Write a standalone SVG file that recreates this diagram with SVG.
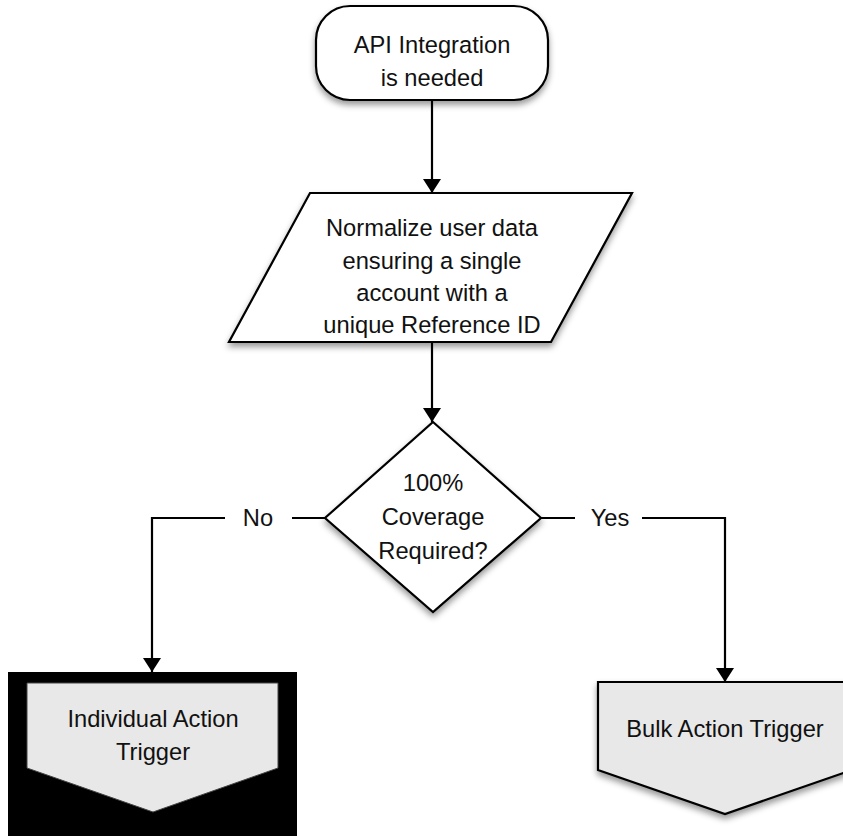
<svg xmlns="http://www.w3.org/2000/svg" width="843" height="836" viewBox="0 0 843 836">
  <defs>
    <filter id="shadow" x="-20%" y="-20%" width="140%" height="150%">
      <feDropShadow dx="0" dy="4" stdDeviation="3" flood-color="#000" flood-opacity="0.4"/>
    </filter>
    <marker id="arrow" viewBox="0 0 14 18" refX="14" refY="9" markerWidth="14" markerHeight="18" markerUnits="userSpaceOnUse" orient="auto">
      <path d="M0,0 L14,9 L0,18 Z" fill="#000"/>
    </marker>
  </defs>
  <style>
    .shape { fill: #fff; stroke: #000; stroke-width: 2.2; filter: url(#shadow); }
    .grey { fill: #e8e8e8; stroke: #000; stroke-width: 2.2; filter: url(#shadow); }
    .label { font-family: "Liberation Sans", Arial, Helvetica, sans-serif; font-size: 23.7px; fill: #111; text-anchor: middle; }
    .edge { fill: none; stroke: #000; stroke-width: 2.2; }
  </style>
  <rect width="843" height="836" fill="#fff"/>

  <g id="connectors">
    <line class="edge" x1="432" y1="100" x2="432" y2="193" marker-end="url(#arrow)"/>
    <line class="edge" x1="432" y1="342" x2="432" y2="422" marker-end="url(#arrow)"/>
    <polyline class="edge" points="325,518 292,518"/>
    <polyline class="edge" points="225,518 152,518 152,672" marker-end="url(#arrow)"/>
    <polyline class="edge" points="541,518 575,518"/>
    <polyline class="edge" points="642,518 725,518 725,682" marker-end="url(#arrow)"/>
    <text class="label" x="258" y="526">No</text>
    <text class="label" x="610" y="526">Yes</text>
  </g>

  <g id="start">
    <rect class="shape" x="316" y="6" width="232" height="94" rx="34" ry="34"/>
    <text class="label" x="432" y="53">API Integration</text>
    <text class="label" x="432" y="86">is needed</text>
  </g>

  <g id="normalize">
    <polygon class="shape" points="310,193 632,193 551,342 229,342"/>
    <text class="label" x="432" y="236">Normalize user data</text>
    <text class="label" x="432" y="269">ensuring a single</text>
    <text class="label" x="432" y="301">account with a</text>
    <text class="label" x="432" y="333">unique Reference ID</text>
  </g>

  <g id="decision">
    <polygon class="shape" points="433,422 541,518 433,612 325,518"/>
    <text class="label" x="433" y="491">100%</text>
    <text class="label" x="433" y="525">Coverage</text>
    <text class="label" x="433" y="559">Required?</text>
  </g>

  <g id="individual">
    <rect x="8" y="672" width="289" height="164" fill="#000"/>
    <polygon points="27,683 278,683 278,768 153,812 27,768" fill="#e8e8e8" stroke="#444" stroke-width="1"/>
    <text class="label" x="153" y="727">Individual Action</text>
    <text class="label" x="153" y="760">Trigger</text>
  </g>

  <g id="bulk">
    <polygon class="grey" points="598,682 852,682 852,770 725,814 598,770"/>
    <text class="label" x="725" y="737">Bulk Action Trigger</text>
  </g>
</svg>
